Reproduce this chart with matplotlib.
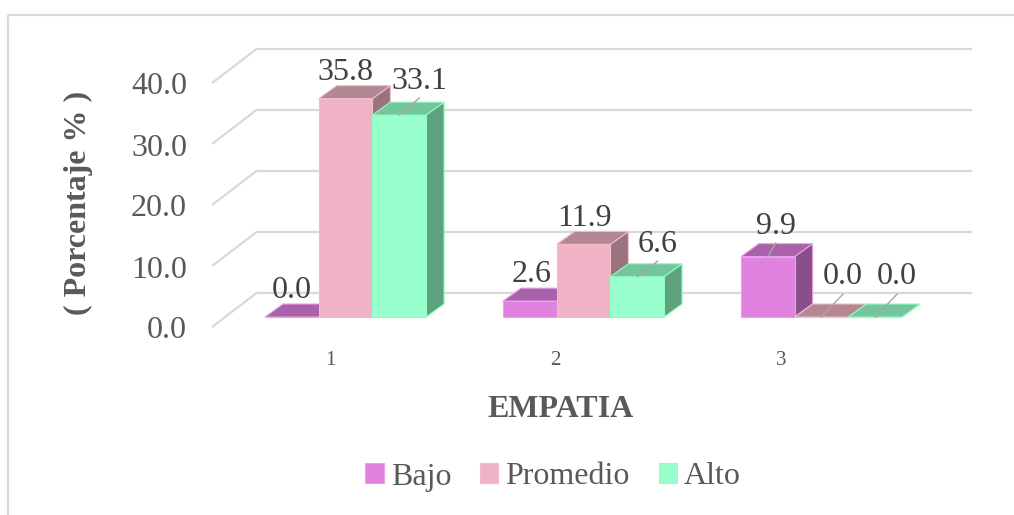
import matplotlib
matplotlib.use('Agg')
import matplotlib.pyplot as plt
from matplotlib.patches import Polygon, Patch

# ---------------- data ----------------
categories = ['1', '2', '3']
series = ['Bajo', 'Promedio', 'Alto']
bajo = [0.0, 2.6, 9.9]
promedio = [35.8, 11.9, 0.0]
alto = [33.1, 6.6, 0.0]
yticks = [0, 10, 20, 30, 40]
ytick_labels = ['0.0', '10.0', '20.0', '30.0', '40.0']
xlabel = 'EMPATIA'
ylabel = '( Porcentaje % )'

# ---------------- style ----------------
plt.rcParams['font.family'] = ['Liberation Serif', 'DejaVu Serif']
FS = 23
front_cols = ['#DF82E0', '#EFB3C5', '#99FFCC']
top_cols = ['#A962AA', '#B38893', '#74C49C']
side_cols = ['#8B4E8C', '#9A737E', '#5FA27E']
edge_cols = ['#E9A2EA', '#F2BCCB', '#8CFFC2']
grid_col = '#D9D9D9'
text_col = '#595959'
label_col = '#404040'
# label displacement in pixels (dx right, dy up) and leader-line flag
lab_off = [[(0, 0), (2, 1), (8, 4.6)],
           [(0, 0), (1.5, 0), (21.5, 14)],
           [(20, 8), (20.5, 6.7), (22, 14)]]
leader = [[False, False, True],
          [False, False, True],
          [True, True, True]]

W, H = 1014, 515
fig = plt.figure(figsize=(W / 100, H / 100), dpi=100)
ax = fig.add_axes([0, 0, 1, 1])
SX, SY = 238.0, 6.1          # pixels per category unit / per value unit
X0PX, Y0PX = 345.5, 317.0    # pixel of category 1 / value 0 (bar front plane)
ax.set_xlim(1 - X0PX / SX, 1 + (W - X0PX) / SX)
ax.set_ylim(-(H - Y0PX) / SY, Y0PX / SY)
ax.axis('off')


def px(x_px):
    return 1 + (x_px - X0PX) / SX


def py(y_px):
    return (Y0PX - y_px) / SY


def dx(p):
    return p / SX


def dy(p):
    return p / SY


# chart border
ax.plot([px(8), px(1014)], [py(15), py(15)], color=grid_col, lw=1.6, zorder=0,
        solid_capstyle='butt')
ax.plot([px(8), px(8)], [py(15), py(515)], color=grid_col, lw=1.6, zorder=0,
        solid_capstyle='butt')

# gridlines (floor diagonal + back wall)
xL, xR = px(225), px(972)
for v, lab in zip(yticks, ytick_labels):
    ax.plot([xL + dx(-13), xL + dx(31.5), xR],
            [v - dy(10), v + dy(24), v + dy(24)],
            color=grid_col, lw=1.6, zorder=1, solid_capstyle='butt')
    ax.text(px(187), v - dy(10) - dy(11.5), lab, ha='right', va='baseline',
            fontsize=FS, color=text_col)

# bars
data = [bajo, promedio, alto]
w = 53.7 / SX
bdx, bdy = dx(18), dy(13)
for gi in range(len(categories)):
    c = gi + 1
    for si in range(len(series)):
        h = data[si][gi]
        x0 = c + (si - 1) * w - w / 2
        z = 2 + gi * 10 + si * 3
        side = Polygon([(x0 + w, 0), (x0 + w + bdx, bdy), (x0 + w + bdx, h + bdy), (x0 + w, h)],
                       closed=True, fc=side_cols[si], ec=edge_cols[si], lw=0.8, zorder=z)
        top = Polygon([(x0, h), (x0 + w, h), (x0 + w + bdx, h + bdy), (x0 + bdx, h + bdy)],
                      closed=True, fc=top_cols[si], ec=edge_cols[si], lw=0.8, zorder=z + 1)
        ax.add_patch(side)
        ax.add_patch(top)
        ax.bar(x0, h, width=w, align='edge', color=front_cols[si],
               edgecolor=edge_cols[si], lw=0.8, zorder=z + 2)

# data labels
for gi in range(len(categories)):
    c = gi + 1
    for si in range(len(series)):
        h = data[si][gi]
        xc = c + (si - 1) * w
        ox, oy = lab_off[si][gi]
        ax.text(xc + dx(ox), h + dy(18.5 + oy), f'{h:.1f}', ha='center', va='baseline',
                fontsize=FS, color=label_col, zorder=50)
        if leader[si][gi]:
            ax.plot([xc, xc + dx(ox)], [h, h + dy(9 + oy)], color='#A6A6A6', lw=1.0,
                    zorder=49)

# category labels
for gi, cat in enumerate(categories):
    c = gi + 1
    ax.text(c - dx(15.5 + gi * 12.5), py(365), cat, ha='center', va='baseline',
            fontsize=15, color=text_col)

# axis titles
ax.text(px(561), py(417), xlabel, ha='center', va='baseline', fontsize=FS,
        weight='bold', color=text_col)
ax.text(px(78), py(203), ylabel, ha='center', va='center', rotation=90, fontsize=FS,
        weight='bold', color=text_col)

# legend
handles = [Patch(fc=front_cols[i], ec=edge_cols[i], lw=0.8, label=series[i])
           for i in range(len(series))]
fig.legend(handles=handles, loc='center', bbox_to_anchor=(553 / W, 1 - 477 / H), ncol=3,
           frameon=False, fontsize=FS, handlelength=0.58, handleheight=0.58,
           handletextpad=0.22, columnspacing=0.9, labelcolor=text_col,
           borderaxespad=0, borderpad=0)

fig.savefig('out.png', dpi=100)
